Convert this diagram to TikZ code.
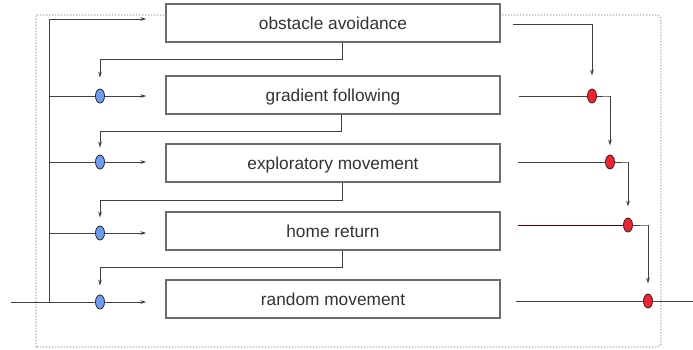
\documentclass[tikz,border=0pt]{standalone}
\usepackage{fontspec}
\setmainfont{Liberation Sans}
\usetikzlibrary{shapes.geometric,arrows.meta}
\definecolor{bluedot}{HTML}{6A9CF5}
\definecolor{reddot}{HTML}{F5222D}
\definecolor{textgray}{HTML}{333333}
\begin{document}
\begin{tikzpicture}[x=1pt,y=-1pt,
  behaviour/.style={draw=gray!85!black,line width=1.3pt,fill=white,
    minimum width=334pt,minimum height=38pt,inner sep=0pt,
    text height=13.5pt,text depth=0pt,
    text=textgray,font=\fontsize{17.3}{20}\selectfont},
  joint/.style={ellipse,draw=black!85,line width=0.8pt,
    minimum width=9pt,minimum height=14pt,inner sep=0pt},
  injoint/.style={joint,fill=bluedot},
  outjoint/.style={joint,fill=reddot},
  wire/.style={draw=black!75,line width=0.9pt},
  arr/.style={wire,-{Stealth[length=6pt,width=3.6pt]}},
  frame/.style={draw=gray!60,line width=1.4pt,dash pattern=on 1.4pt off 1.6pt}]

\useasboundingbox (0,0) rectangle (693,349);

% dotted enclosure
\draw[frame] (36,347) -- (36,15) [rounded corners=4pt] -- (661,15) -- (661,347) -- (36,347);

% behaviour boxes
\node[behaviour] (b1) at (333,23)  {obstacle avoidance};
\node[behaviour] (b2) at (333,95)  {gradient following};
\node[behaviour] (b3) at (333,163) {exploratory movement};
\node[behaviour] (b4) at (333,231) {home return};
\node[behaviour] (b5) at (333,299) {random movement};

% input joints
\node[injoint] (l2) at (100,96)  {};
\node[injoint] (l3) at (100,162) {};
\node[injoint] (l4) at (100,233) {};
\node[injoint] (l5) at (100,302) {};

% output joints
\node[outjoint] (r2) at (592,96)  {};
\node[outjoint] (r3) at (610,162) {};
\node[outjoint] (r4) at (628,225) {};
\node[outjoint] (r5) at (648,301) {};

% sensor input and distribution bus
\coordinate (in) at (11,302);
\coordinate (bus) at (49,302);
\coordinate (bustop) at (49,19);
\coordinate (out) at (693,301);

\draw[wire] (in) -- (l5);
\draw[wire] (bus) -- (bustop);
\draw[arr,shorten >=19pt] (bustop) -- (bustop -| b1.west);
\draw[wire] (bus |- l2) -- (l2);
\draw[wire] (bus |- l3) -- (l3);
\draw[wire] (bus |- l4) -- (l4);
\draw[arr,shorten >=19pt] (l2) -- (l2 -| b2.west);
\draw[arr,shorten >=19pt] (l3) -- (l3 -| b3.west);
\draw[arr,shorten >=19pt] (l4) -- (l4 -| b4.west);
\draw[arr,shorten >=19pt] (l5) -- (l5 -| b5.west);

% inhibition from higher boxes into the lower inputs
\draw[arr,shorten >=11pt] ([xshift=9pt]b1.south) -- ++(0,17) -| (l2.north);
\draw[arr,shorten >=7pt]  ([xshift=8pt]b2.south) -- ++(0,17) -| (l3.north);
\draw[arr,shorten >=8pt]  ([xshift=9pt]b3.south) -- ++(0,18) -| (l4.north);
\draw[arr,shorten >=9pt]  ([xshift=9pt]b4.south) -- ++(0,17) -| (l5.north);

% outputs and suppression chain
\coordinate (o1) at (513,24);
\draw[arr,shorten >=13pt] (o1) -| (r2.north);
\draw[wire,shorten <=18pt] (b2.east |- r2) -- (r2);
\draw[wire,shorten <=17pt] (b3.east |- r3) -- (r3);
\draw[wire,draw=black!55!red!80!black,shorten <=17pt] (b4.east |- r4) -- (r4);
\draw[wire,shorten <=15pt] (b5.east |- r5) -- (r5);
\draw[arr,shorten >=9pt]  (r2.east) -- ++(12,0) -| (r3.north);
\draw[arr,shorten >=11pt] (r3.east) -- ++(13,0) -| (r4.north);
\draw[arr,shorten >=10pt] (r4.east) -- ++(15,0) -| (r5.north);
\draw[wire] (r5) -- (out);
\end{tikzpicture}
\end{document}
